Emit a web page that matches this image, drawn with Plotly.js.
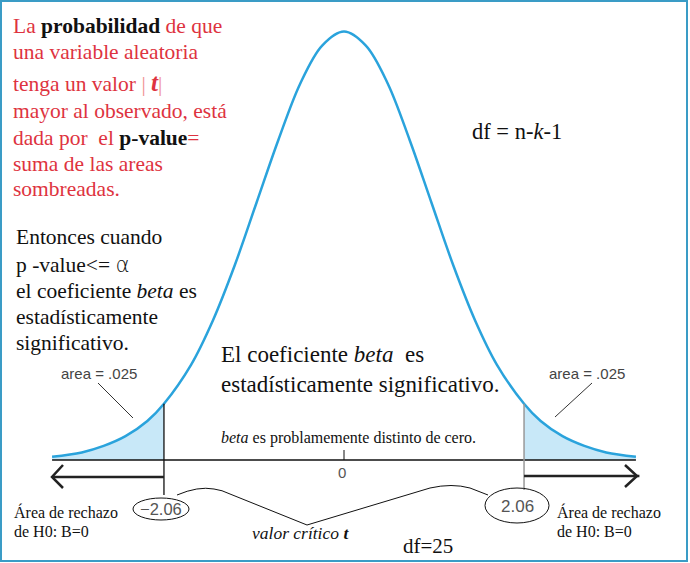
<!DOCTYPE html>
<html>
<head>
<meta charset="utf-8">
<script src="https://cdn.plot.ly/plotly-3.0.1.min.js"></script>
<style>html,body{margin:0;padding:0;background:#fff;}#chart{width:690px;height:563px;}</style>
</head>
<body>
<div id="chart"></div>
<script>
// ---- data (t distribution, df = 25) ----
const tX = [-3.34, -3, -2.75, -2.5, -2.25, -2.06, -1.75, -1.5, -1.25, -1, -0.75, -0.5, -0.25, 0,
            0.25, 0.5, 0.75, 1, 1.25, 1.5, 1.75, 2.06, 2.25, 2.5, 2.75, 3, 3.34];
const tY = [0.003, 0.007, 0.013, 0.022, 0.036, 0.052, 0.088, 0.129, 0.180, 0.238, 0.296, 0.348, 0.383, 0.396,
            0.383, 0.348, 0.296, 0.238, 0.180, 0.129, 0.088, 0.052, 0.036, 0.022, 0.013, 0.007, 0.003];
const critVal = 2.06;
const critLabels = ["\u22122.06", "2.06"];
const areaLabel = "area = .025";
const centerLabel = "0";

// ---- page geometry ----
const W = 690, H = 563;
const X0 = 344, SX = 87.4, Y0 = 460, SY = 1082;   // pixel <-> data mapping
const xr = [(0 - X0) / SX, (W - X0) / SX];
const yr = [(Y0 - H) / SY, Y0 / SY];
const dy = py => (Y0 - py) / SY;                     // pixel y -> data y
const fx = px => px / W, fy = py => 1 - py / H;      // pixel -> paper

const leftX = [], leftY = [], rightX = [], rightY = [];
tX.forEach((v, i) => {
  if (v <= -critVal + 1e-9) { leftX.push(v); leftY.push(tY[i]); }
  if (v >= critVal - 1e-9) { rightX.push(v); rightY.push(tY[i]); }
});
const yAtCrit = tY[tX.indexOf(critVal)];

const blue = '#2aa3dc', fillBlue = '#c8e8f8';
const red = '#de3340';
const serif = 'Liberation Serif';
const sans = 'Liberation Sans';

const traces = [
  {x: leftX, y: leftY, mode: 'lines', line: {width: 0, shape: 'spline'}, fill: 'tozeroy', fillcolor: fillBlue, hoverinfo: 'skip'},
  {x: rightX, y: rightY, mode: 'lines', line: {width: 0, shape: 'spline'}, fill: 'tozeroy', fillcolor: fillBlue, hoverinfo: 'skip'},
  {x: tX, y: tY, mode: 'lines', line: {color: blue, width: 2.5, shape: 'spline', smoothing: 1}, hoverinfo: 'skip'}
];

function pathPx(pts) {
  return pts.map((p, i) => (i ? 'L' : 'M') + fx(p[0]) + ',' + fy(p[1])).join(' ');
}

const shapes = [
  {type: 'rect', xref: 'paper', yref: 'paper', x0: fx(1), x1: fx(687), y0: fy(1), y1: fy(561), line: {color: '#3a9cc6', width: 2}},
  {type: 'line', x0: tX[0], x1: tX[tX.length - 1], y0: 0, y1: 0, line: {color: '#111', width: 1.3}},
  {type: 'line', x0: 0, x1: 0, y0: 0, y1: dy(450), line: {color: '#111', width: 1}},
  {type: 'line', x0: -critVal, x1: -critVal, y0: yAtCrit, y1: dy(495), line: {color: '#111', width: 1.3}},
  {type: 'line', x0: critVal, x1: critVal, y0: yAtCrit, y1: dy(490), line: {color: '#999', width: 1.5}},
  {type: 'line', x0: tX[0], x1: -critVal, y0: dy(477), y1: dy(477), line: {color: '#222', width: 2.5}},
  {type: 'line', x0: critVal, x1: tX[tX.length - 1] + 0.04, y0: dy(476), y1: dy(476), line: {color: '#222', width: 2.5}},
  {type: 'path', xref: 'paper', yref: 'paper', path: pathPx([[63, 465], [52, 477], [63, 488]]), line: {color: '#222', width: 2.5}},
  {type: 'path', xref: 'paper', yref: 'paper', path: pathPx([[625, 465], [637, 476], [625, 487]]), line: {color: '#222', width: 2.5}},
  {type: 'line', xref: 'paper', yref: 'paper', x0: fx(98), y0: fy(383), x1: fx(133), y1: fy(418), line: {color: '#333', width: 1}},
  {type: 'line', xref: 'paper', yref: 'paper', x0: fx(592), y0: fy(383), x1: fx(555), y1: fy(417), line: {color: '#333', width: 1}},
  {type: 'circle', xref: 'paper', yref: 'paper', x0: fx(133), x1: fx(189), y0: fy(498), y1: fy(520), line: {color: '#111', width: 1}},
  {type: 'circle', xref: 'paper', yref: 'paper', x0: fx(485), x1: fx(549), y0: fy(488), y1: fy(523), line: {color: '#111', width: 1}},
  {type: 'path', xref: 'paper', yref: 'paper',
   path: 'M' + fx(177) + ',' + fy(495) + ' Q' + fx(198) + ',' + fy(486) + ' ' + fx(214) + ',' + fy(489) +
         ' Q' + fx(222) + ',' + fy(490) + ' ' + fx(230) + ',' + fy(494) +
         ' L' + fx(307) + ',' + fy(525) + ' L' + fx(430) + ',' + fy(488) +
         ' Q' + fx(452) + ',' + fy(483) + ' ' + fx(470) + ',' + fy(488) +
         ' L' + fx(488) + ',' + fy(495),
   line: {color: '#111', width: 1}}
];

function ann(px, py, text, size, color, family, xanchor) {
  return {xref: 'paper', yref: 'paper', x: fx(px), y: fy(py), text: text, showarrow: false,
          xanchor: xanchor || 'left', yanchor: 'middle',
          font: {size: size, color: color, family: family || serif}};
}
const B = s => '<b><span style="color:#111">' + s + '</span></b>';
const pipe = '<span style="color:#f09090">|</span>';

const annotations = [
  ann(11, 26, 'La ' + B('probabilidad') + ' de que', 21.5, red),
  ann(11, 52, 'una variable aleatoria', 21.5, red),
  ann(11, 83, 'tenga un valor ' + pipe + ' <b><i><span style="font-size:25px">t</span></i></b>' + pipe, 21.5, red),
  ann(11, 111, 'mayor al observado, está', 21.5, red),
  ann(11, 138, 'dada por  el ' + B('p-value') + '=', 21.5, red),
  ann(11, 164, 'suma de las areas', 21.5, red),
  ann(11, 189, 'sombreadas.', 21.5, red),

  ann(14, 237, 'Entonces cuando', 21.5, '#111'),
  ann(14, 264, 'p -value&lt;= <span style="font-family:DejaVu Sans;font-weight:lighter">α</span>', 21.5, '#111'),
  ann(14, 291, 'el coeficiente <i>beta</i> es', 21.5, '#111'),
  ann(14, 317, 'estadísticamente', 21.5, '#111'),
  ann(14, 343, 'significativo.', 21.5, '#111'),

  ann(470, 131, 'df = n-<i>k</i>-1', 22.5, '#111'),

  ann(219, 355, 'El coeficiente <i>beta</i>  es', 23, '#111'),
  ann(219, 384, 'estadísticamente significativo.', 23, '#111'),
  ann(219, 438, '<i>beta</i> es problamemente distinto de cero.', 16, '#111'),

  ann(99, 373, areaLabel, 15, '#444', sans, 'center'),
  ann(587, 373, areaLabel, 15, '#444', sans, 'center'),
  ann(342, 472, centerLabel, 15, '#555', sans, 'center'),
  ann(161, 509, critLabels[0], 16.5, '#555', sans, 'center'),
  ann(517, 506, critLabels[1], 17, '#555', sans, 'center'),

  ann(12, 512, 'Área de rechazo', 16, '#111'),
  ann(12, 531, 'de H0: B=0', 16, '#111'),
  ann(555, 512, 'Área de rechazo', 16, '#111'),
  ann(555, 531, 'de H0: B=0', 16, '#111'),

  ann(250, 533, '<i>valor crítico <b>t</b></i>', 17.5, '#111'),
  ann(401, 546, 'df=25', 21, '#111')
];

const layout = {
  width: W, height: H,
  margin: {l: 0, r: 0, t: 0, b: 0, pad: 0},
  paper_bgcolor: '#fff', plot_bgcolor: '#fff',
  font: {family: serif},
  showlegend: false,
  xaxis: {range: xr, visible: false, fixedrange: true},
  yaxis: {range: yr, visible: false, fixedrange: true},
  shapes: shapes,
  annotations: annotations
};

Plotly.newPlot('chart', traces, layout, {staticPlot: true, displayModeBar: false});
</script>
</body>
</html>
